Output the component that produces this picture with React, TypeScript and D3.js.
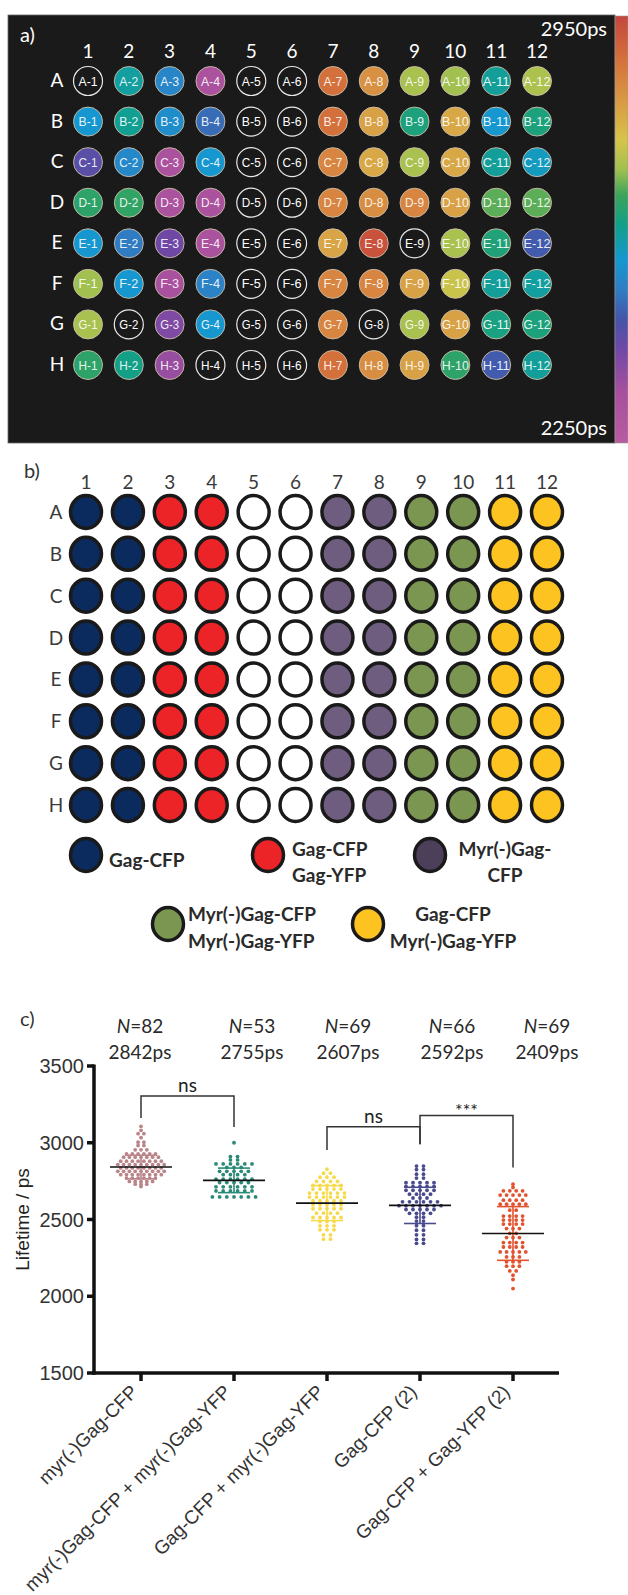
import React from 'react';
import * as d3 from 'd3';

// ---------- Panel a data ----------
const plateRows = ['A', 'B', 'C', 'D', 'E', 'F', 'G', 'H'];
const plateCols = ['1', '2', '3', '4', '5', '6', '7', '8', '9', '10', '11', '12'];

// estimated lifetime (ps) of each well, null = empty well
const rowA = [null, 2590, 2515, 2320, null, null, 2880, 2825, 2705, 2700, 2595, 2710];
const rowB = [2550, 2600, 2530, 2480, null, null, 2880, 2800, 2620, 2790, 2550, 2620];
const rowC = [2430, 2520, 2320, 2550, null, null, 2845, 2790, 2705, 2790, 2595, 2565];
const rowD = [2640, 2645, 2320, 2320, null, null, 2845, 2830, 2845, 2800, 2670, 2670];
const rowE = [2550, 2500, 2405, 2320, null, null, 2795, 2930, null, 2705, 2625, 2460];
const rowF = [2700, 2550, 2330, 2510, null, null, 2845, 2845, 2800, 2735, 2595, 2590];
const rowG = [2705, null, 2385, 2550, null, null, 2845, null, 2705, 2800, 2615, 2620];
const rowH = [2640, 2610, 2355, null, null, null, 2880, 2830, 2800, 2640, 2460, 2595];
const wellLifetimes = [rowA, rowB, rowC, rowD, rowE, rowF, rowG, rowH];

const colorbarMax = 2950;
const colorbarMin = 2250;
const colorStopValues = [2950, 2880, 2810, 2747, 2698, 2656, 2607, 2551, 2502, 2453, 2404, 2334, 2250];
const colorStopColors = ['#c4463c', '#d4703c', '#d99a44', '#d6c44a', '#a0c050', '#3aa45a', '#12a08a',
  '#1598d0', '#2f7ec4', '#4555a8', '#7048a6', '#a8509e', '#b85ca0'];

// ---------- Panel b data ----------
const columnConditions = ['gag', 'gag', 'gagGagYfp', 'gagGagYfp', 'none', 'none', 'myr', 'myr',
  'myrMyrYfp', 'myrMyrYfp', 'gagMyrYfp', 'gagMyrYfp'];
const conditionFill: Record<string, string> = {
  gag: '#0b2a5e', gagGagYfp: '#ec2427', none: '#ffffff', myr: '#6f5d7f',
  myrMyrYfp: '#7b9651', gagMyrYfp: '#fdc321',
};
const legendKeys = ['gag', 'gagGagYfp', 'myr', 'myrMyrYfp', 'gagMyrYfp'];
const legendLines = [['Gag-CFP'], ['Gag-CFP', 'Gag-YFP'], ['Myr(-)Gag-', 'CFP'],
  ['Myr(-)Gag-CFP', 'Myr(-)Gag-YFP'], ['Gag-CFP', 'Myr(-)Gag-YFP']];
const legendFill: Record<string, string> = { ...conditionFill, myr: '#4b3f5a' };

// ---------- Panel c data ----------
const categories = ['myr(-)Gag-CFP', 'myr(-)Gag-CFP + myr(-)Gag-YFP', 'Gag-CFP + myr(-)Gag-YFP',
  'Gag-CFP (2)', 'Gag-CFP + Gag-YFP (2)'];
const nValues = [82, 53, 69, 66, 69];
const meanValues = [2842, 2755, 2607, 2592, 2409];
const sdValues = [77, 80, 114, 118, 175];
const yTicks = [1500, 2000, 2500, 3000, 3500];

const lifetimes0 = [
  3107, 3081, 3059, 3059, 3033, 3004, 3004, 2982, 2982, 2954, 2954, 2954,
  2928, 2928, 2928, 2928, 2928, 2928,
  2906, 2906, 2906, 2906, 2906, 2906, 2906,
  2880, 2880, 2880, 2880, 2880, 2880, 2880, 2880,
  2858, 2858, 2858, 2858, 2858, 2858, 2858, 2858, 2858,
  2836, 2836, 2836, 2836, 2836, 2836, 2836, 2836,
  2814, 2814, 2814, 2814, 2814, 2814, 2814, 2814, 2814,
  2792, 2792, 2792, 2792, 2792, 2792, 2792, 2792,
  2770, 2770, 2770, 2770, 2770, 2770,
  2748, 2748, 2748, 2748, 2748, 2730, 2730, 2730, 2715,
];
const lifetimes1 = [
  3000, 2910, 2910, 2888, 2888,
  2862, 2862, 2862, 2862, 2862, 2862, 2840, 2840, 2840,
  2814, 2814, 2814, 2814, 2814, 2792, 2792, 2792, 2792,
  2763, 2763, 2763, 2763, 2763, 2763, 2741, 2741, 2741, 2741, 2741,
  2713, 2713, 2713, 2713, 2713, 2713, 2686, 2686, 2686, 2686, 2686, 2686,
  2647, 2647, 2647, 2647, 2647, 2647, 2647,
];
const lifetimes2 = [
  2828, 2802, 2802, 2776, 2776, 2776, 2748, 2748, 2748, 2748,
  2722, 2722, 2722, 2722, 2722, 2698, 2698, 2698, 2698, 2698,
  2672, 2672, 2672, 2672, 2672, 2672, 2646, 2646, 2646, 2646, 2646, 2646,
  2622, 2622, 2622, 2622, 2622, 2596, 2596, 2596, 2596, 2596,
  2570, 2570, 2570, 2570, 2570, 2541, 2541, 2541, 2541,
  2513, 2513, 2513, 2513, 2513, 2487, 2487, 2487, 2459, 2459, 2459,
  2433, 2433, 2433, 2400, 2400, 2372, 2372,
];
const lifetimes3 = [
  2848, 2848, 2825, 2825, 2795, 2795, 2770, 2770,
  2740, 2740, 2740, 2740, 2740, 2715, 2715, 2715, 2715, 2715,
  2690, 2690, 2690, 2690, 2690, 2665, 2665, 2665, 2665, 2640, 2640, 2640,
  2615, 2615, 2615, 2615, 2615, 2615, 2590, 2590, 2590, 2590, 2590, 2590, 2590,
  2565, 2565, 2565, 2565, 2565, 2540, 2540, 2540, 2540, 2515, 2515,
  2490, 2490, 2460, 2460, 2430, 2430, 2400, 2400, 2370, 2370, 2345, 2345,
];
const lifetimes4 = [
  2730, 2709, 2687, 2687, 2687, 2687, 2659, 2659, 2659, 2659, 2659,
  2626, 2626, 2626, 2626, 2600, 2600, 2600, 2600, 2600, 2561, 2561,
  2522, 2522, 2522, 2522, 2496, 2496, 2496, 2496, 2470, 2470, 2470, 2470,
  2441, 2441, 2441, 2409, 2409, 2382, 2382, 2382,
  2350, 2350, 2350, 2350, 2321, 2321, 2321, 2321, 2289, 2289, 2289, 2289, 2289,
  2256, 2256, 2256, 2224, 2224, 2224, 2196, 2196, 2196, 2165, 2165, 2137, 2109, 2050,
];
const groupValues = [lifetimes0, lifetimes1, lifetimes2, lifetimes3, lifetimes4];
const groupColors = ['#b98589', '#2a8a78', '#f7da4c', '#4a4a8e', '#e2522e'];

const brackets = [
  { from: 0, to: 1, top: 3304, leftEnd: 3161, rightEnd: 3102, label: 'ns' },
  { from: 2, to: 3, top: 3104, leftEnd: 2952, rightEnd: 2991, label: 'ns' },
  { from: 3, to: 4, top: 3178, leftEnd: 2991, rightEnd: 2839, label: '***' },
];

const CAL = 'Lato, "Open Sans", sans-serif';
const ARIAL = '"Liberation Sans", Arial, sans-serif';

function swarm(values: number[], y: (v: number) => number, cx: number, spacing: number) {
  const pts = values.map((v) => ({ v, y: y(v) }));
  const rows = d3.groups(pts, (p) => Math.round(p.y / 2.6));
  const out: { x: number; y: number }[] = [];
  rows.forEach(([, r]) => {
    const n = r.length;
    r.forEach((p, i) => out.push({ x: cx + (i - (n - 1) / 2) * spacing, y: p.y }));
  });
  return out;
}

export default function App() {
  const color = d3.scaleLinear<string>().domain(colorStopValues).range(colorStopColors)
    .interpolate(d3.interpolateRgb).clamp(true);

  const aX = d3.scalePoint().domain(plateCols).range([88, 537]);
  const aY = d3.scalePoint().domain(plateRows).range([81, 365]);
  const bX = d3.scalePoint().domain(plateCols).range([86, 547]);
  const bY = d3.scalePoint().domain(plateRows).range([512, 805]);
  const barY = d3.scaleLinear().domain([colorbarMin, colorbarMax]).range([443, 16]);
  const cX = d3.scalePoint().domain(categories).range([141, 513]);
  const cY = d3.scaleLinear().domain([1500, 3500]).range([1373, 1066]);

  const spacings = [5.8, 7.2, 7, 7, 6.4];

  return (
    <div style={{ position: 'absolute', left: 0, top: 0, background: '#fff' }}>
      <svg width={628} height={1595} style={{ display: 'block' }}>
        <defs>
          <linearGradient id="cbar" x1="0" y1="0" x2="0" y2="1">
            {colorStopValues.map((v, i) => (
              <stop key={i} offset={(colorbarMax - v) / (colorbarMax - colorbarMin)} stopColor={colorStopColors[i]} />
            ))}
          </linearGradient>
        </defs>
        <rect width={628} height={1595} fill="#fff" />

        {/* ---------- Panel a ---------- */}
        <rect x={8} y={15} width={607} height={428} fill="#1b1a1a" stroke="#6a6a6a" strokeWidth={0.8} />
        <rect x={615} y={barY(colorbarMax)} width={13} height={barY(colorbarMin) - barY(colorbarMax)} fill="url(#cbar)" stroke="#999" strokeWidth={0.6} />
        <text x={20} y={42} fill="#fff" fontFamily={CAL} fontSize={20}>a)</text>
        <text x={607} y={36} fill="#fff" fontFamily={CAL} fontSize={20} textAnchor="end">{colorbarMax}ps</text>
        <text x={607} y={435} fill="#fff" fontFamily={CAL} fontSize={20} textAnchor="end">{colorbarMin}ps</text>
        {plateCols.map((c) => (
          <text key={c} x={aX(c)} y={58} fill="#fff" fontFamily={CAL} fontSize={19} textAnchor="middle">{c}</text>
        ))}
        {plateRows.map((r) => (
          <text key={r} x={57} y={(aY(r) as number) + 6} fill="#fff" fontFamily={CAL} fontSize={19} textAnchor="middle">{r}</text>
        ))}
        {wellLifetimes.map((row, ri) => row.map((v, ci) => {
          const cx = aX(plateCols[ci]) as number;
          const cy = aY(plateRows[ri]) as number;
          const label = `${plateRows[ri]}-${plateCols[ci]}`;
          return (
            <g key={label}>
              <circle cx={cx} cy={cy} r={14.5} fill={v == null ? '#1b1a1a' : color(v)}
                stroke={v == null ? '#e8e8e8' : '#cdbfa8'} strokeWidth={v == null ? 1.2 : 0.9} />
              <text x={cx} y={cy + 4.6} fill="#fff" fillOpacity={v == null ? 1 : 0.9} fontFamily={ARIAL} fontSize={13}
                textAnchor="middle" textLength={label.length > 3 ? 27 : 19} lengthAdjust="spacingAndGlyphs">{label}</text>
            </g>
          );
        }))}

        {/* ---------- Panel b ---------- */}
        <text x={24} y={478} fill="#333" fontFamily={CAL} fontSize={20}>b)</text>
        {plateCols.map((c) => (
          <text key={c} x={bX(c)} y={489} fill="#3a3a3a" fontFamily={CAL} fontSize={19} textAnchor="middle">{c}</text>
        ))}
        {plateRows.map((r) => (
          <text key={r} x={56} y={(bY(r) as number) + 7} fill="#3a3a3a" fontFamily={CAL} fontSize={19} textAnchor="middle">{r}</text>
        ))}
        {plateRows.map((r) => plateCols.map((c, ci) => (
          <ellipse key={r + c} cx={bX(c)} cy={bY(r)} rx={15.5} ry={16.5} fill={conditionFill[columnConditions[ci]]}
            stroke="#1a1a1a" strokeWidth={3.5} />
        )))}

        {/* legend */}
        {[
          { cx: 86, cy: 855, tx: 109, anchor: 'start', ty: [861] },
          { cx: 268, cy: 855, tx: 292, anchor: 'start', ty: [850, 876] },
          { cx: 430, cy: 855, tx: 505, anchor: 'middle', ty: [850, 876] },
          { cx: 168, cy: 924, tx: 188, anchor: 'start', ty: [915, 942] },
          { cx: 368, cy: 924, tx: 453, anchor: 'middle', ty: [915, 942] },
        ].map((p, i) => (
          <g key={i}>
            <ellipse cx={p.cx} cy={p.cy} rx={15.5} ry={16.5} fill={legendFill[legendKeys[i]]} stroke="#1a1a1a" strokeWidth={3.5} />
            {legendLines[i].map((t, j) => (
              <text key={j} x={p.tx} y={p.ty[j] + 6} fill="#2a2a2a" fontFamily={CAL} fontWeight={700}
                fontSize={19} textAnchor={p.anchor as any}>{t}</text>
            ))}
          </g>
        ))}

        {/* ---------- Panel c ---------- */}
        <text x={20} y={1026} fill="#333" fontFamily={CAL} fontSize={20}>c)</text>
        {[140, 252, 348, 452, 547].map((x, i) => (
          <g key={i}>
            <text x={x} y={1033} fill="#2a2a2a" fontFamily={CAL} fontSize={19} textAnchor="middle">
              <tspan fontStyle="italic">N</tspan>={nValues[i]}
            </text>
            <text x={x} y={1059} fill="#2a2a2a" fontFamily={CAL} fontSize={19} textAnchor="middle">{meanValues[i]}ps</text>
          </g>
        ))}

        {/* points */}
        {groupValues.map((vals, gi) => {
          const cx = cX(categories[gi]) as number;
          return (
            <g key={gi}>
              {swarm(vals, cY, cx, spacings[gi]).map((p, k) => (
                <circle key={k} cx={p.x} cy={p.y} r={1.9} fill={groupColors[gi]} />
              ))}
              <line x1={cx} x2={cx} y1={cY(meanValues[gi] + sdValues[gi])} y2={cY(meanValues[gi] - sdValues[gi])}
                stroke={groupColors[gi]} strokeWidth={1.6} />
              {[1, -1].map((s) => (
                <line key={s} x1={cx - 16} x2={cx + 16} y1={cY(meanValues[gi] + s * sdValues[gi])}
                  y2={cY(meanValues[gi] + s * sdValues[gi])} stroke={groupColors[gi]} strokeWidth={1.6} />
              ))}
              <line x1={cx - 31} x2={cx + 31} y1={cY(meanValues[gi])} y2={cY(meanValues[gi])} stroke="#111" strokeWidth={1.6} />
            </g>
          );
        })}

        {/* brackets */}
        {brackets.map((b, i) => {
          const x1 = cX(categories[b.from]) as number;
          const x2 = cX(categories[b.to]) as number;
          return (
            <g key={i}>
              <path d={`M${x1},${cY(b.leftEnd)}V${cY(b.top)}H${x2}V${cY(b.rightEnd)}`} fill="none" stroke="#333" strokeWidth={1.5} />
              <text x={(x1 + x2) / 2} y={cY(b.top) - (b.label === 'ns' ? 4 : -2)} fill="#222" fontFamily={CAL}
                fontSize={b.label === 'ns' ? 19 : 18} textAnchor="middle">{b.label}</text>
            </g>
          );
        })}

        {/* axes */}
        <line x1={94} x2={94} y1={cY(3500) - 1.5} y2={cY(1500) + 1.75} stroke="#111" strokeWidth={3.5} />
        <line x1={92.25} x2={559} y1={cY(1500)} y2={cY(1500)} stroke="#111" strokeWidth={3.5} />
        {yTicks.map((t) => (
          <g key={t}>
            <line x1={87} x2={94} y1={cY(t)} y2={cY(t)} stroke="#111" strokeWidth={3.5} />
            <text x={84} y={cY(t) + 7} fill="#333" fontFamily={ARIAL} fontSize={20} textAnchor="end">{t}</text>
          </g>
        ))}
        <text transform={`translate(29,${(cY(3500) + cY(1500)) / 2}) rotate(-90)`} fill="#222" fontFamily={ARIAL}
          fontSize={19} textAnchor="middle">Lifetime / ps</text>
        {categories.map((c) => {
          const x = cX(c) as number;
          return (
            <g key={c}>
              <line x1={x} x2={x} y1={cY(1500)} y2={cY(1500) + 8} stroke="#111" strokeWidth={3.5} />
              <text transform={`translate(${x - 2},${cY(1500) + 20}) rotate(-45)`} fill="#333" fontFamily={ARIAL}
                fontSize={19} textAnchor="end">{c}</text>
            </g>
          );
        })}
      </svg>
    </div>
  );
}
